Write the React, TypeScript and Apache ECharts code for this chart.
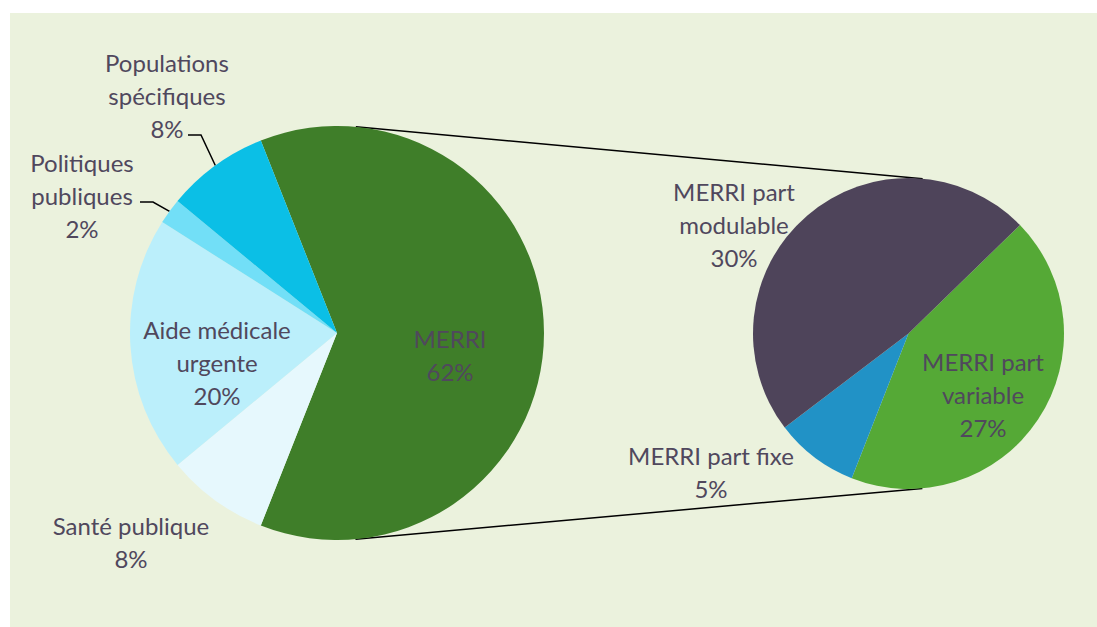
import React, { useEffect, useRef } from "react";
import * as echarts from "echarts";

const leftNames = ["MERRI", "Santé publique", "Aide médicale urgente", "Politiques publiques", "Populations spécifiques"];
const leftLabels = ["MERRI", "Santé publique", "Aide médicale\nurgente", "Politiques\npubliques", "Populations\nspécifiques"];
const leftValues = [62, 8, 20, 2, 8];
const leftColors = ["#3F7E29", "#E6F8FD", "#BBEFFB", "#72DFF7", "#0BBFE6"];

const rightNames = ["MERRI part variable", "MERRI part fixe", "MERRI part modulable"];
const rightLabels = ["MERRI part\nvariable", "MERRI part fixe", "MERRI part\nmodulable"];
const rightValues = [26.8, 5.4, 29.8];
const rightColors = ["#55A936", "#2192C6", "#4E445A"];

const TEXT = "#50485D";
const FONT = "Lato";

const C1 = [337, 333];
const R1 = 207;
const C2 = [908.5, 333.5];
const R2 = 155.5;

// label anchor positions (centre of text block)
const leftLabelPos = [
  [450, 355],
  [131, 542],
  [217, 362],
  [82, 195],
  [167, 95],
];
const rightLabelPos = [
  [983, 394],
  [711, 472],
  [734, 224],
];
// leader line start (relative to label centre) for the items that have one
const leaderStart: Record<number, number[]> = {
  3: [58, 7],
  4: [21, 40],
};
const leaderElbow = 13;

export default function App() {
  const ref = useRef<HTMLDivElement>(null);
  useEffect(() => {
    if (!ref.current) return;
    const chart = echarts.init(ref.current, null, { renderer: "svg" });
    const total = leftValues.reduce((a, b) => a + b, 0);
    const leftStart = ((leftValues[0] / total) * 360) / 2;

    // mid angle of each left slice (degrees, math convention)
    const midAngles: number[] = [];
    let acc = leftStart;
    leftValues.forEach((v) => {
      const span = (v / total) * 360;
      midAngles.push(acc - span / 2);
      acc -= span;
    });

    const dx = C2[0] - C1[0];
    const dy = C2[1] - C1[1];
    const d = Math.hypot(dx, dy);
    const phi = Math.atan2(dy, dx);
    const alpha = Math.acos((R1 - R2) / d);
    const tangent = (a: number) => ({
      x1: C1[0] + R1 * Math.cos(a),
      y1: C1[1] + R1 * Math.sin(a),
      x2: C2[0] + R2 * Math.cos(a),
      y2: C2[1] + R2 * Math.sin(a),
    });
    const top = tangent(phi - alpha);
    const bot = tangent(phi + alpha);

    const labelStyle = {
      color: TEXT,
      fontFamily: FONT,
      fontSize: 24,
      lineHeight: 33,
      align: "center",
      overflow: "none",
    };

    chart.setOption({
      animation: false,
      graphic: [
        {
          type: "rect",
          z: -10,
          shape: { x: 10, y: 13, width: 1100, height: 620 },
          style: { fill: "#EBF2DD" },
          silent: true,
        },
        { type: "line", z: 0, shape: top, style: { stroke: "#000", lineWidth: 1.5 } },
        { type: "line", z: 0, shape: bot, style: { stroke: "#000", lineWidth: 1.5 } },
      ],
      series: [
        {
          type: "pie",
          center: C1,
          radius: R1,
          startAngle: leftStart,
          clockwise: true,
          z: 2,
          itemStyle: { borderWidth: 0 },
          emphasis: { disabled: true },
          label: {
            show: true,
            position: "outside",
            ...labelStyle,
            formatter: (p: any) => `${leftLabels[p.dataIndex]}\n${Math.round(p.value)}%`,
          },
          labelLine: { show: false, lineStyle: { color: "#000", width: 1.5 } },
          labelLayout: (p: any) => {
            const i = p.dataIndex;
            const [lx, ly] = leftLabelPos[i];
            const res: any = { x: lx, y: ly, align: "center", verticalAlign: "middle" };
            const s = leaderStart[i];
            if (s) {
              const a = (midAngles[i] * Math.PI) / 180;
              const ax = C1[0] + R1 * Math.cos(a);
              const ay = C1[1] - R1 * Math.sin(a);
              const sx = lx + s[0];
              const sy = ly + s[1];
              res.labelLinePoints = [
                [sx, sy],
                [sx + leaderElbow, sy],
                [ax, ay],
              ];
            }
            return res;
          },
          data: leftNames.map((n, i) => ({
            name: n,
            value: leftValues[i],
            itemStyle: { color: leftColors[i] },
            labelLine: { show: i === 3 || i === 4 },
          })),
        },
        {
          type: "pie",
          center: C2,
          radius: R2,
          startAngle: 44.2,
          clockwise: true,
          z: 2,
          itemStyle: { borderWidth: 0 },
          emphasis: { disabled: true },
          label: {
            show: true,
            position: "outside",
            ...labelStyle,
            formatter: (p: any) => `${rightLabels[p.dataIndex]}\n${Math.round(p.value)}%`,
          },
          labelLine: { show: false },
          labelLayout: (p: any) => ({
            x: rightLabelPos[p.dataIndex][0],
            y: rightLabelPos[p.dataIndex][1],
            align: "center",
            verticalAlign: "middle",
          }),
          data: rightNames.map((n, i) => ({
            name: n,
            value: rightValues[i],
            itemStyle: { color: rightColors[i] },
          })),
        },
      ],
    });
    return () => chart.dispose();
  }, []);
  return (
    <div
      ref={ref}
      style={{ position: "absolute", left: 0, top: 0, width: 1097, height: 627, background: "#fff" }}
    />
  );
}
